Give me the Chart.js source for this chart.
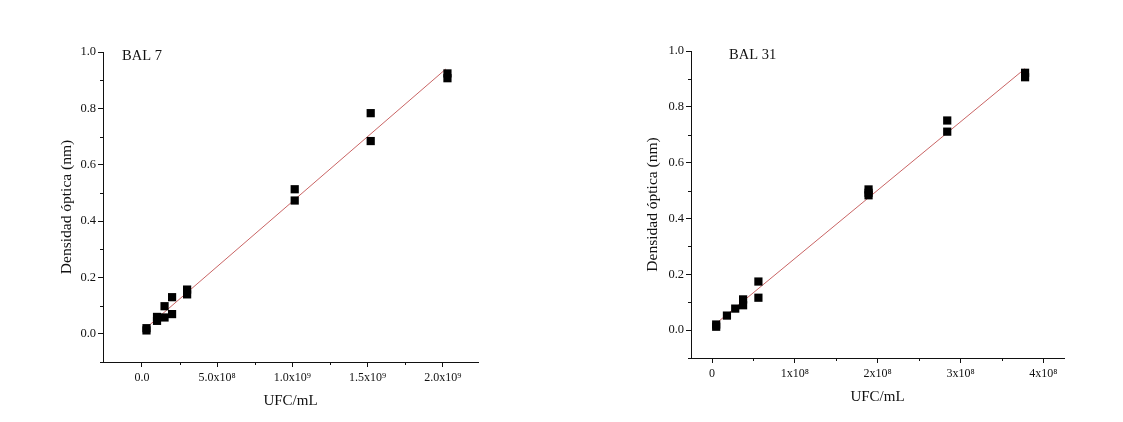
<!DOCTYPE html>
<html>
<head>
<meta charset="utf-8">
<script src="https://cdn.jsdelivr.net/npm/chart.js@4"></script>
<style>
  body { margin: 0; background: #fff; }
  .box { position: absolute; top: 0; height: 422px; }
  #leftBox { left: 0; width: 561px; }
  #rightBox { left: 561px; width: 562px; }
</style>
</head>
<body>
<div class="box" id="leftBox"><canvas id="bal7"></canvas></div>
<div class="box" id="rightBox"><canvas id="bal31"></canvas></div>
<script>
// BAL 7
const bal7X = [0.03e9, 0.03e9, 0.1e9, 0.1e9, 0.15e9, 0.15e9, 0.2e9, 0.2e9, 0.3e9, 0.3e9, 1.015e9, 1.015e9, 1.52e9, 1.52e9, 2.03e9, 2.03e9];
const bal7Y = [0.012, 0.020, 0.060, 0.046, 0.098, 0.058, 0.130, 0.070, 0.157, 0.140, 0.513, 0.473, 0.783, 0.684, 0.924, 0.907];
const bal7FitX = [0.03e9, 2.02e9];
const bal7FitY = [0.022, 0.940];
const bal7XTicks = [0, 5e8, 1e9, 1.5e9, 2e9];
const bal7XLabels = ["0.0", "5.0x10⁸", "1.0x10⁹", "1.5x10⁹", "2.0x10⁹"];
const bal7XMinor = [2.5e8, 7.5e8, 1.25e9, 1.75e9];

// BAL 31
const bal31X = [0.05e8, 0.05e8, 0.18e8, 0.28e8, 0.375e8, 0.375e8, 0.56e8, 0.56e8, 1.89e8, 1.89e8, 1.89e8, 2.84e8, 2.84e8, 3.78e8, 3.78e8];
const bal31Y = [0.012, 0.020, 0.052, 0.077, 0.110, 0.089, 0.174, 0.116, 0.504, 0.492, 0.483, 0.751, 0.711, 0.922, 0.906];
const bal31FitX = [0.05e8, 3.78e8];
const bal31FitY = [0.024, 0.937];
const bal31XTicks = [0, 1e8, 2e8, 3e8, 4e8];
const bal31XLabels = ["0", "1x10⁸", "2x10⁸", "3x10⁸", "4x10⁸"];
const bal31XMinor = [0.5e8, 1.5e8, 2.5e8, 3.5e8];

const yTicks = [0, 0.2, 0.4, 0.6, 0.8, 1.0];
const yLabels = ["0.0", "0.2", "0.4", "0.6", "0.8", "1.0"];
const yMinor = [-0.1, 0.1, 0.3, 0.5, 0.7, 0.9];

const FONT = "'Liberation Serif', 'Times New Roman', serif";
const INK = '#111';

const decorPlugin = {
  id: 'decor',
  afterDraw(chart, args, opts) {
    const ctx = chart.ctx;
    const xs = chart.scales.x, ys = chart.scales.y;
    ctx.save();
    ctx.strokeStyle = INK;
    ctx.lineWidth = 1;
    ctx.beginPath();
    opts.xMinor.forEach(v => {
      const px = Math.round(xs.getPixelForValue(v)) + 0.5;
      ctx.moveTo(px, xs.top);
      ctx.lineTo(px, xs.top + 3);
    });
    yMinor.forEach(v => {
      const py = Math.round(ys.getPixelForValue(v)) + 0.5;
      ctx.moveTo(ys.right, py);
      ctx.lineTo(ys.right - 3, py);
    });
    ctx.stroke();
    ctx.fillStyle = INK;
    ctx.font = "14.5px " + FONT;
    ctx.textBaseline = 'middle';
    ctx.fillText(opts.label, chart.chartArea.left + opts.labelDx, ys.getPixelForValue(0.985));
    ctx.restore();
  }
};

function makeChart(id, cfg) {
  return new Chart(document.getElementById(id), {
    type: 'scatter',
    data: {
      datasets: [
        {
          data: cfg.x.map((v, i) => ({ x: v, y: cfg.y[i] })),
          pointStyle: 'rect',
          pointRadius: 5.8,
          pointHoverRadius: 5.8,
          backgroundColor: '#000',
          borderColor: '#000',
          borderWidth: 0
        },
        {
          type: 'line',
          data: cfg.fitX.map((v, i) => ({ x: v, y: cfg.fitY[i] })),
          borderColor: '#c96464',
          borderWidth: 1,
          pointRadius: 0,
          fill: false
        }
      ]
    },
    options: {
      responsive: true,
      maintainAspectRatio: false,
      animation: false,
      layout: { padding: cfg.padding },
      plugins: {
        legend: { display: false },
        tooltip: { enabled: false },
        decor: { xMinor: cfg.xMinor, label: cfg.label, labelDx: cfg.labelDx }
      },
      scales: {
        x: {
          type: 'linear',
          min: cfg.xMin,
          max: cfg.xMax,
          afterBuildTicks: s => { s.ticks = cfg.xTicks.map(v => ({ value: v })); },
          afterFit: s => { s.height = cfg.xHeight; },
          ticks: {
            color: INK,
            padding: 4,
            maxRotation: 0,
            font: { family: FONT, size: 12 },
            callback: v => { const i = cfg.xTicks.indexOf(v); return i >= 0 ? cfg.xLabels[i] : ''; }
          },
          grid: { drawOnChartArea: false, drawTicks: true, tickLength: 5, color: INK },
          border: { display: true, color: INK, width: 1 },
          title: { display: true, text: 'UFC/mL', color: INK, font: { family: FONT, size: 15 } }
        },
        y: {
          min: -0.1,
          max: 1.0,
          afterBuildTicks: s => { s.ticks = yTicks.map(v => ({ value: v })); },
          afterFit: s => { s.width = cfg.yWidth; },
          ticks: {
            color: INK,
            padding: 2,
            font: { family: FONT, size: 12.5 },
            callback: v => { const i = yTicks.findIndex(t => Math.abs(t - v) < 1e-9); return i >= 0 ? yLabels[i] : ''; }
          },
          grid: { drawOnChartArea: false, drawTicks: true, tickLength: 5, color: INK },
          border: { display: true, color: INK, width: 1 },
          title: { display: true, text: 'Densidad óptica (nm)', color: INK, font: { family: FONT, size: 15.5 } }
        }
      }
    },
    plugins: [decorPlugin]
  });
}

makeChart('bal7', {
  x: bal7X, y: bal7Y, fitX: bal7FitX, fitY: bal7FitY,
  xTicks: bal7XTicks, xLabels: bal7XLabels, xMinor: bal7XMinor,
  xMin: -2.59e8, xMax: 2.233e9,
  label: 'BAL 7', labelDx: 19,
  padding: { left: 54, right: 83, top: 52, bottom: 8 },
  yWidth: 49, xHeight: 52
});

makeChart('bal31', {
  x: bal31X, y: bal31Y, fitX: bal31FitX, fitY: bal31FitY,
  xTicks: bal31XTicks, xLabels: bal31XLabels, xMinor: bal31XMinor,
  xMin: -0.254e8, xMax: 4.25e8,
  label: 'BAL 31', labelDx: 38,
  padding: { left: 79, right: 59, top: 51, bottom: 12 },
  yWidth: 51, xHeight: 52
});
</script>
</body>
</html>
